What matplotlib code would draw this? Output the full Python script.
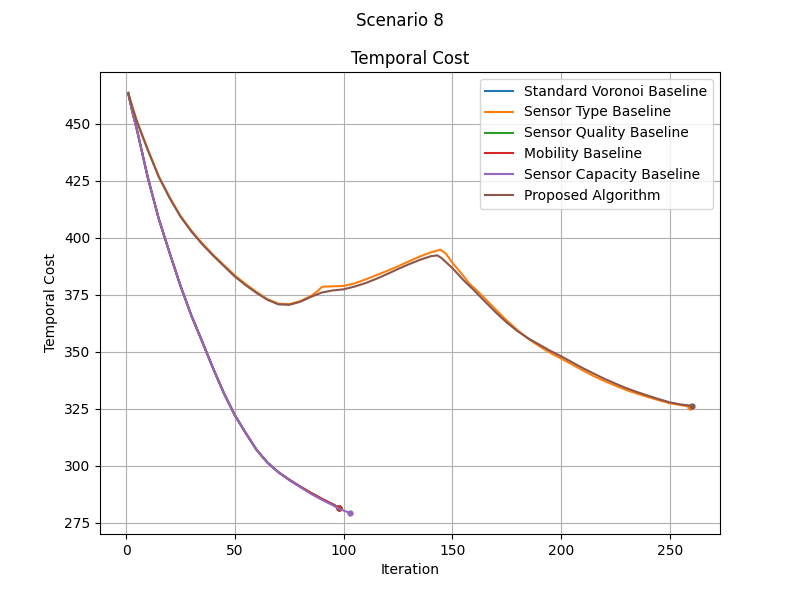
import numpy as np
import matplotlib
matplotlib.use('Agg')
import matplotlib.pyplot as plt

''' Temporal cost per iteration for scenario 8, values read off the original plot. '''

# lower group: Voronoi, Quality and Mobility sit under the Capacity curve
x_low = [1, 3, 5, 10, 15, 20, 25, 30, 35, 40, 45, 50, 55, 60, 65, 70, 75, 80, 85, 90, 95, 98]
y_low = [463.5, 455.0, 447.5, 426.5, 408.5, 393.5, 379.0, 366.0, 354.5, 342.8, 331.8, 322.2,
         314.4, 307.0, 301.4, 297.2, 293.9, 290.9, 288.1, 285.5, 283.1, 281.6]

x_cap = [1, 3, 5, 10, 15, 20, 25, 30, 35, 40, 45, 50, 55, 60, 65, 70, 75, 80, 85, 90, 95, 98, 103]
y_cap = [463.5, 455.0, 447.5, 426.5, 408.5, 393.5, 379.0, 366.0, 354.5, 342.8, 331.8, 322.2,
         314.4, 307.0, 301.4, 297.2, 293.7, 290.7, 287.7, 285.1, 282.7, 281.1, 279.3]

# upper group
x_prop = [1, 3, 5, 10, 15, 20, 25, 30, 35, 40, 45, 50, 55, 60, 65, 70, 75, 80, 85, 90, 95,
          100, 105, 110, 115, 120, 125, 130, 135, 140, 143, 145, 150, 155, 160, 165, 170,
          175, 180, 185, 190, 195, 200, 205, 210, 215, 220, 225, 230, 235, 240, 245, 250,
          255, 260]
y_prop = [463.5, 457.0, 451.0, 438.5, 426.8, 417.5, 409.3, 402.8, 397.2, 392.2, 387.6, 383.0,
          379.2, 375.8, 372.8, 370.8, 370.6, 371.9, 374.1, 376.0, 376.9, 377.4, 378.6,
          380.1, 382.0, 384.1, 386.3, 388.4, 390.3, 391.9, 392.3, 391.1, 386.7, 381.5,
          376.9, 372.0, 367.2, 362.8, 359.0, 355.8, 353.1, 350.4, 348.0, 345.4, 342.8,
          340.4, 338.1, 336.0, 334.0, 332.3, 330.7, 329.2, 327.8, 326.9, 326.3]

x_type = [1, 3, 5, 10, 15, 20, 25, 30, 35, 40, 45, 50, 55, 60, 65, 70, 75, 80, 85, 88, 90,
          91, 95, 100, 105, 110, 115, 120, 125, 130, 135, 140, 144.5, 147, 150, 155, 158,
          160, 165, 170, 175, 180, 185, 190, 195, 200, 205, 210, 215, 220, 225, 230, 235,
          240, 245, 250, 255, 259]
y_type = [463.5, 457.2, 451.2, 438.8, 427.1, 417.9, 409.7, 403.2, 397.6, 392.6, 388.0, 383.5,
          379.7, 376.2, 373.1, 371.1, 370.9, 372.2, 374.5, 376.6, 378.4, 378.6, 378.7,
          378.9, 380.0, 381.7, 383.6, 385.5, 387.5, 389.7, 391.8, 393.6, 394.8, 393.0,
          389.0, 383.3, 379.6, 378.0, 373.3, 368.4, 363.7, 359.4, 355.6, 352.4, 349.5,
          347.0, 344.4, 341.8, 339.3, 337.1, 335.1, 333.2, 331.6, 330.1, 328.7, 327.4,
          326.6, 325.9]

labels = ['Standard Voronoi Baseline', 'Sensor Type Baseline', 'Sensor Quality Baseline',
          'Mobility Baseline', 'Sensor Capacity Baseline', 'Proposed Algorithm']

series = [(x_low, y_low), (x_type, y_type), (x_low, y_low),
          (x_low, y_low), (x_cap, y_cap), (x_prop, y_prop)]

fig, ax = plt.subplots(figsize=(8, 6), dpi=100)
for i, (xs, ys) in enumerate(series):
    c = 'C%d' % i
    ax.plot(xs, ys, color=c, label=labels[i])
    ax.plot(xs[-1], ys[-1], 'o', color=c, markersize=3.5)

fig.suptitle('Scenario 8')
ax.set_title('Temporal Cost')
ax.set_xlabel('Iteration')
ax.set_ylabel('Temporal Cost')
ax.grid(True)
ax.legend(loc='upper right')
plt.savefig('out.png')
